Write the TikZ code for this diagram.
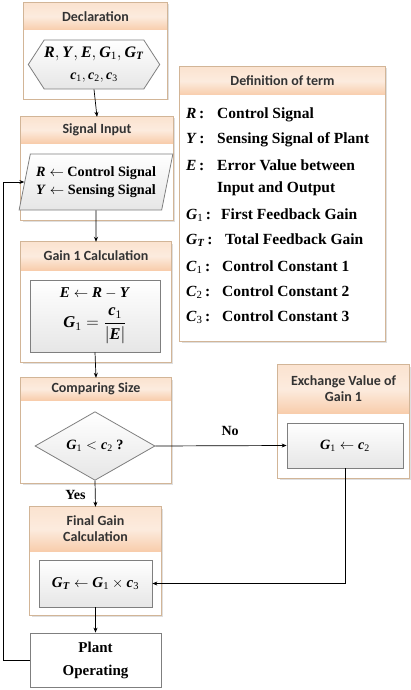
\documentclass[tikz,border=0pt]{standalone}
\usepackage{amsmath}
\usepackage{fontspec}
\setmainfont{Liberation Serif}
\newfontfamily\hdrfont{Carlito}
\usetikzlibrary{arrows.meta,shapes.geometric,shapes.symbols,shadows,fit}
\definecolor{hdrtop}{HTML}{FBE3D0}
\definecolor{hdrbot}{HTML}{F8CDAC}
\definecolor{boxline}{HTML}{D2B597}
\definecolor{innerline}{HTML}{7F7F7F}
\definecolor{innerfill}{HTML}{E6E6E6}
\newcommand\mv[1]{\textbf{\textit{#1}}}
\newcommand\gs[2]{\mv{#1}_{\text{\mdseries #2}}}
\newcommand\ctbox[7]{%
  \node[outerbox, fit={(#2,#3) (#4,#5)}] (#1) {};
  \shade[hdr] (#2,#3) rectangle (#4,#6);
  \draw[boxline, line width=0.8pt] (#1.north west) rectangle (#1.south east);
  \node[hdrtext] (#1h) at ({(#2+#4)/2},{(#3+#6)/2}) {#7};
}
\newcommand\sym[2]{\makebox[#1][l]{#2\,:}}
\tikzset{
  outerbox/.style={fill=white, draw=none, inner sep=0pt,
    drop shadow={opacity=0.25, shadow xshift=1.5pt, shadow yshift=-1.5pt}},
  hdr/.style={top color=hdrtop, bottom color=hdrbot, middle color=hdrtop!70!white, draw=none},
  hdrtext/.style={font=\hdrfont\bfseries\fontsize{14}{16}\selectfont, text=black!80, align=center},
  innerbox/.style={draw=innerline, top color=white, bottom color=innerfill, line width=0.8pt, inner sep=0pt, align=center},
  bodytext/.style={font=\bfseries\fontsize{14.2}{16.5}\selectfont},
  defrow/.style={font=\bfseries\fontsize{15.5}{18}\selectfont, anchor=west, inner sep=0pt},
  conn/.style={-{Stealth[length=5pt,width=4pt]}, line width=0.7pt},
  lbl/.style={font=\bfseries\fontsize{14}{16}\selectfont}
}
\begin{document}
\begin{tikzpicture}[x=1pt,y=-1pt]
\useasboundingbox (0,0) rectangle (411,690);
\fill[white] (0,0) rectangle (411,690);

% Declaration
\ctbox{declbox}{24}{3}{167}{99}{30}{Declaration}
\node[signal, signal to=west and east, signal pointer angle=114, innerbox,
  minimum width=120pt, minimum height=49pt, bodytext] (hex) at (94,64.5)
  {{\fontsize{16}{18}\selectfont $\mv{R}, \mv{Y}, \mv{E}, \gs{G}{1}, \mv{G}_{\mv{T}}$}\\[6pt]
   {\fontsize{14}{16}\selectfont $\mv{c}_{\text{\mdseries 1}}, \mv{c}_{\text{\mdseries 2}}, \mv{c}_{\text{\mdseries 3}}$}};

% Signal Input
\ctbox{sigbox}{21}{117}{173}{220}{143}{Signal Input}
\node[trapezium, trapezium left angle=72, trapezium right angle=108, trapezium stretches=true,
  innerbox, minimum width=154pt, minimum height=56pt, bodytext] (para) at (96,182)
  {$\mv{R} \leftarrow$ Control Signal\\[2pt] $\mv{Y} \leftarrow$ Sensing Signal};

% Gain 1 Calculation
\ctbox{g1box}{21}{242}{171}{362}{270}{Gain 1 Calculation}
\node[innerbox, minimum width=130pt, minimum height=72pt, font=\bfseries\fontsize{15}{17}\selectfont] (g1in) at (95,316)
  {$\mv{E} \leftarrow \mv{R} - \mv{Y}$\\[8pt] {\fontsize{16.5}{18}\selectfont $\gs{G}{1} = \dfrac{\mv{c}_{\text{\mdseries 1}}}{\left|\mv{E}\right|}$}};

% Comparing Size
\ctbox{cmpbox}{21}{378}{171}{483}{400}{Comparing Size}
\node[diamond, innerbox, minimum width=120pt, minimum height=62pt, bodytext] (cmp) at (95,446)
  {$\gs{G}{1} < \mv{c}_{\text{\mdseries 2}}$ ?};

% Exchange Value of Gain 1
\ctbox{exbox}{278}{365}{409}{478}{413}{Exchange Value of\\Gain 1}
\node[innerbox, minimum width=116pt, minimum height=45pt, bodytext] (exin) at (345,445.5)
  {$\gs{G}{1} \leftarrow \mv{c}_{\text{\mdseries 2}}$};

% Final Gain Calculation
\ctbox{fgbox}{30}{507}{161}{615}{551}{Final Gain\\Calculation}
\node[innerbox, minimum width=113pt, minimum height=47pt, font=\bfseries\fontsize{15}{17}\selectfont] (fgin) at (95.5,583.5)
  {$\mv{G}_{\mv{T}} \leftarrow \gs{G}{1} \times \mv{c}_{\text{\mdseries 3}}$};

% Plant Operating
\node[draw=innerline, fill=white, line width=0.8pt, minimum width=131pt, minimum height=54pt,
  align=center, font=\bfseries\fontsize{15}{23}\selectfont] (plant) at (95.5,660)
  {Plant\\Operating};

% Definition of term
\ctbox{defbox}{180}{67}{385}{341}{95}{Definition of term}
\node[defrow] (d1) at (186,115) {\sym{31pt}{$\mv{R}$}Control Signal};
\node[defrow] (d2) at (186,140) {\sym{31pt}{$\mv{Y}$}Sensing Signal of Plant};
\node[defrow] (d3) at (186,165) {\sym{31pt}{$\mv{E}$}Error Value between};
\node[defrow] (d3b) at (217,189) {Input and Output};
\node[defrow] (d4) at (186,215) {\sym{35pt}{$\gs{G}{1}$}First Feedback Gain};
\node[defrow] (d5) at (186,240) {\sym{39pt}{$\mv{G}_{\mv{T}}$}Total Feedback Gain};
\node[defrow] (d6) at (186,267) {\sym{36pt}{$\gs{C}{1}$}Control Constant 1};
\node[defrow] (d7) at (186,292) {\sym{36pt}{$\gs{C}{2}$}Control Constant 2};
\node[defrow] (d8) at (186,317) {\sym{36pt}{$\gs{C}{3}$}Control Constant 3};

% connectors
\draw[conn] (hex.south) -- (sigbox.north);
\draw[conn] (para.south) -- (g1box.north);
\draw[conn] (g1in.south) -- (cmpbox.north);
\draw[conn] (cmp.south) -- node[lbl, pos=0.55, left=6pt] (yes) {Yes} (fgbox.north);
\draw[conn] (cmp.east) -- node[lbl, above=6pt, pos=0.57] (no) {No} (exin.west);
\draw[conn] (exin.south) |- (fgin.east);
\draw[conn] (fgin.south) -- (plant.north);
\draw[conn] (plant.west) -- ++(-26,0) |- (para.west);
\end{tikzpicture}
\end{document}
